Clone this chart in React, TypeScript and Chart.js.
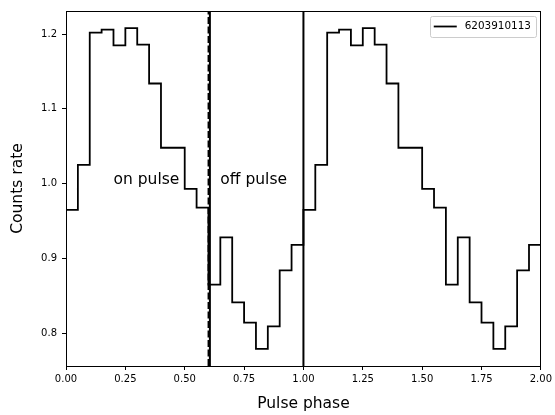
import { useEffect, useRef } from 'react';
import { Chart, registerables } from 'chart.js';

Chart.register(...registerables);

// ---- data (one pulse cycle, 20 phase bins; the profile is shown twice) ----
const BIN_EDGES = [0.0, 0.05, 0.1, 0.15, 0.2, 0.25, 0.3, 0.35, 0.4, 0.45, 0.5, 0.55, 0.6, 0.65, 0.7, 0.75, 0.8, 0.85, 0.9, 0.95];
const COUNTS_RATE = [0.965, 1.025, 1.202, 1.206, 1.185, 1.208, 1.186, 1.134, 1.048, 1.048, 0.993, 0.968, 0.865, 0.928, 0.841, 0.814, 0.779, 0.809, 0.884, 0.918];
const CYCLES = [0, 1];
const X_TICKS = [0.0, 0.25, 0.5, 0.75, 1.0, 1.25, 1.5, 1.75, 2.0];
const Y_TICKS = [0.8, 0.9, 1.0, 1.1, 1.2];
const X_MIN = 0;
const X_MAX = 2;
const Y_MIN = 0.756;
const Y_MAX = 1.231;
const ON_PULSE_EDGES = [0.0, 0.6];
const OFF_PULSE_EDGES = [0.606, 1.0];
const LEGEND_LABEL = '6203910113';
const ANNOTATION_TEXTS = ['on pulse', 'off pulse'];
const ANNOTATION_X = [0.2, 0.65];
const ANNOTATION_Y = [1.0, 1.0];

const FONT = 'DejaVu Sans';

const stepPoints = () => {
  const pts: { x: number; y: number }[] = [];
  CYCLES.forEach((c) => {
    BIN_EDGES.forEach((e, i) => pts.push({ x: e + c, y: COUNTS_RATE[i] }));
  });
  pts.push({ x: X_MAX, y: COUNTS_RATE[COUNTS_RATE.length - 1] });
  return pts;
};

const vline = (x: number, dashed: boolean, width: number) => ({
  type: 'line' as const,
  data: [
    { x, y: Y_MIN },
    { x, y: Y_MAX },
  ],
  borderColor: '#000',
  borderWidth: width,
  borderDash: dashed ? [7, 2.5] : [],
  pointRadius: 0,
  fill: false,
});

const framePlugin = {
  id: 'frameAndText',
  afterDatasetsDraw(chart: any) {
    const { ctx, chartArea, scales } = chart;
    const xs = scales.x;
    const ys = scales.y;
    ctx.save();
    // annotations
    ctx.fillStyle = '#000';
    ctx.font = `15.5px "${FONT}"`;
    ctx.textAlign = 'left';
    ctx.textBaseline = 'alphabetic';
    ANNOTATION_TEXTS.forEach((t, i) => {
      ctx.fillText(t, xs.getPixelForValue(ANNOTATION_X[i]), ys.getPixelForValue(ANNOTATION_Y[i]));
    });
    // frame
    ctx.strokeStyle = '#000';
    ctx.lineWidth = 1;
    ctx.setLineDash([]);
    ctx.strokeRect(
      Math.round(chartArea.left) + 0.5,
      Math.round(chartArea.top) + 0.5,
      Math.round(chartArea.right - chartArea.left) - 1,
      Math.round(chartArea.bottom - chartArea.top)
    );
    // legend
    ctx.font = `10.4px "${FONT}"`;
    const tw = ctx.measureText(LEGEND_LABEL).width;
    const padL = 4, handle = 23, gap = 8, padR = 5, h = 21;
    const w = padL + handle + gap + tw + padR;
    const bx = chartArea.right - 5 - w;
    const by = chartArea.top + 5;
    ctx.fillStyle = 'rgba(255,255,255,0.8)';
    ctx.strokeStyle = '#cccccc';
    ctx.lineWidth = 1;
    ctx.beginPath();
    const r = 2;
    const x0 = Math.round(bx) + 0.5, y0 = Math.round(by) + 0.5, x1 = Math.round(bx + w) + 0.5, y1 = Math.round(by + h) + 0.5;
    ctx.moveTo(x0 + r, y0);
    ctx.lineTo(x1 - r, y0);
    ctx.arcTo(x1, y0, x1, y0 + r, r);
    ctx.lineTo(x1, y1 - r);
    ctx.arcTo(x1, y1, x1 - r, y1, r);
    ctx.lineTo(x0 + r, y1);
    ctx.arcTo(x0, y1, x0, y1 - r, r);
    ctx.lineTo(x0, y0 + r);
    ctx.arcTo(x0, y0, x0 + r, y0, r);
    ctx.closePath();
    ctx.fill();
    ctx.stroke();
    const cy = by + h / 2;
    ctx.strokeStyle = '#000';
    ctx.lineWidth = 1.8;
    ctx.beginPath();
    ctx.moveTo(bx + padL, cy);
    ctx.lineTo(bx + padL + handle, cy);
    ctx.stroke();
    ctx.fillStyle = '#000';
    ctx.textBaseline = 'middle';
    ctx.fillText(LEGEND_LABEL, bx + padL + handle + gap, cy);
    ctx.restore();
  },
};

export default function App() {
  const ref = useRef<HTMLCanvasElement | null>(null);
  useEffect(() => {
    if (!ref.current) return;
    Chart.defaults.font.family = FONT;
    const chart = new Chart(ref.current, {
      type: 'line',
      data: {
        datasets: [
          {
            label: LEGEND_LABEL,
            data: stepPoints(),
            borderColor: '#000',
            borderWidth: 1.8,
            stepped: 'before',
            pointRadius: 0,
            fill: false,
          } as any,
          vline(ON_PULSE_EDGES[0], true, 1.8),
          vline(ON_PULSE_EDGES[1], true, 1.8),
          vline(OFF_PULSE_EDGES[0], false, 2),
          vline(OFF_PULSE_EDGES[1], false, 2),
        ],
      },
      options: {
        responsive: false,
        animation: false,
        parsing: false as any,
        layout: { padding: { left: 0, right: 14, top: 10, bottom: 0 } },
        plugins: { legend: { display: false }, tooltip: { enabled: false } },
        scales: {
          x: {
            type: 'linear',
            min: X_MIN,
            max: X_MAX,
            afterBuildTicks: (s: any) => {
              s.ticks = X_TICKS.map((v) => ({ value: v }));
            },
            afterFit: (s: any) => {
              s.height = 49;
            },
            ticks: {
              color: '#000',
              font: { size: 10, family: FONT },
              padding: 3,
              maxRotation: 0,
              autoSkip: false,
              callback: (v: any) => Number(v).toFixed(2),
            },
            grid: { drawOnChartArea: false, drawTicks: true, tickLength: 4, color: '#000' },
            border: { display: false },
            title: {
              display: true,
              text: 'Pulse phase',
              color: '#000',
              font: { size: 15.5, family: FONT },
              padding: { top: 0, bottom: 1.7 },
            },
          },
          y: {
            type: 'linear',
            min: Y_MIN,
            max: Y_MAX,
            afterBuildTicks: (s: any) => {
              s.ticks = Y_TICKS.map((v) => ({ value: v }));
            },
            afterFit: (s: any) => {
              s.width = 66;
            },
            ticks: {
              color: '#000',
              font: { size: 10, family: FONT },
              padding: 5,
              autoSkip: false,
              callback: (v: any) => Number(v).toFixed(1),
            },
            grid: { drawOnChartArea: false, drawTicks: true, tickLength: 4, color: '#000' },
            border: { display: false },
            title: {
              display: true,
              text: 'Counts rate',
              color: '#000',
              font: { size: 15.5, family: FONT },
              padding: { top: 8.8, bottom: 0 },
            },
          },
        },
      },
      plugins: [framePlugin],
    });
    return () => chart.destroy();
  }, []);
  return (
    <div style={{ position: 'absolute', left: 0, top: 0, width: 555, height: 415, background: '#fff' }}>
      <canvas ref={ref} width={555} height={415} style={{ display: 'block' }} />
    </div>
  );
}
